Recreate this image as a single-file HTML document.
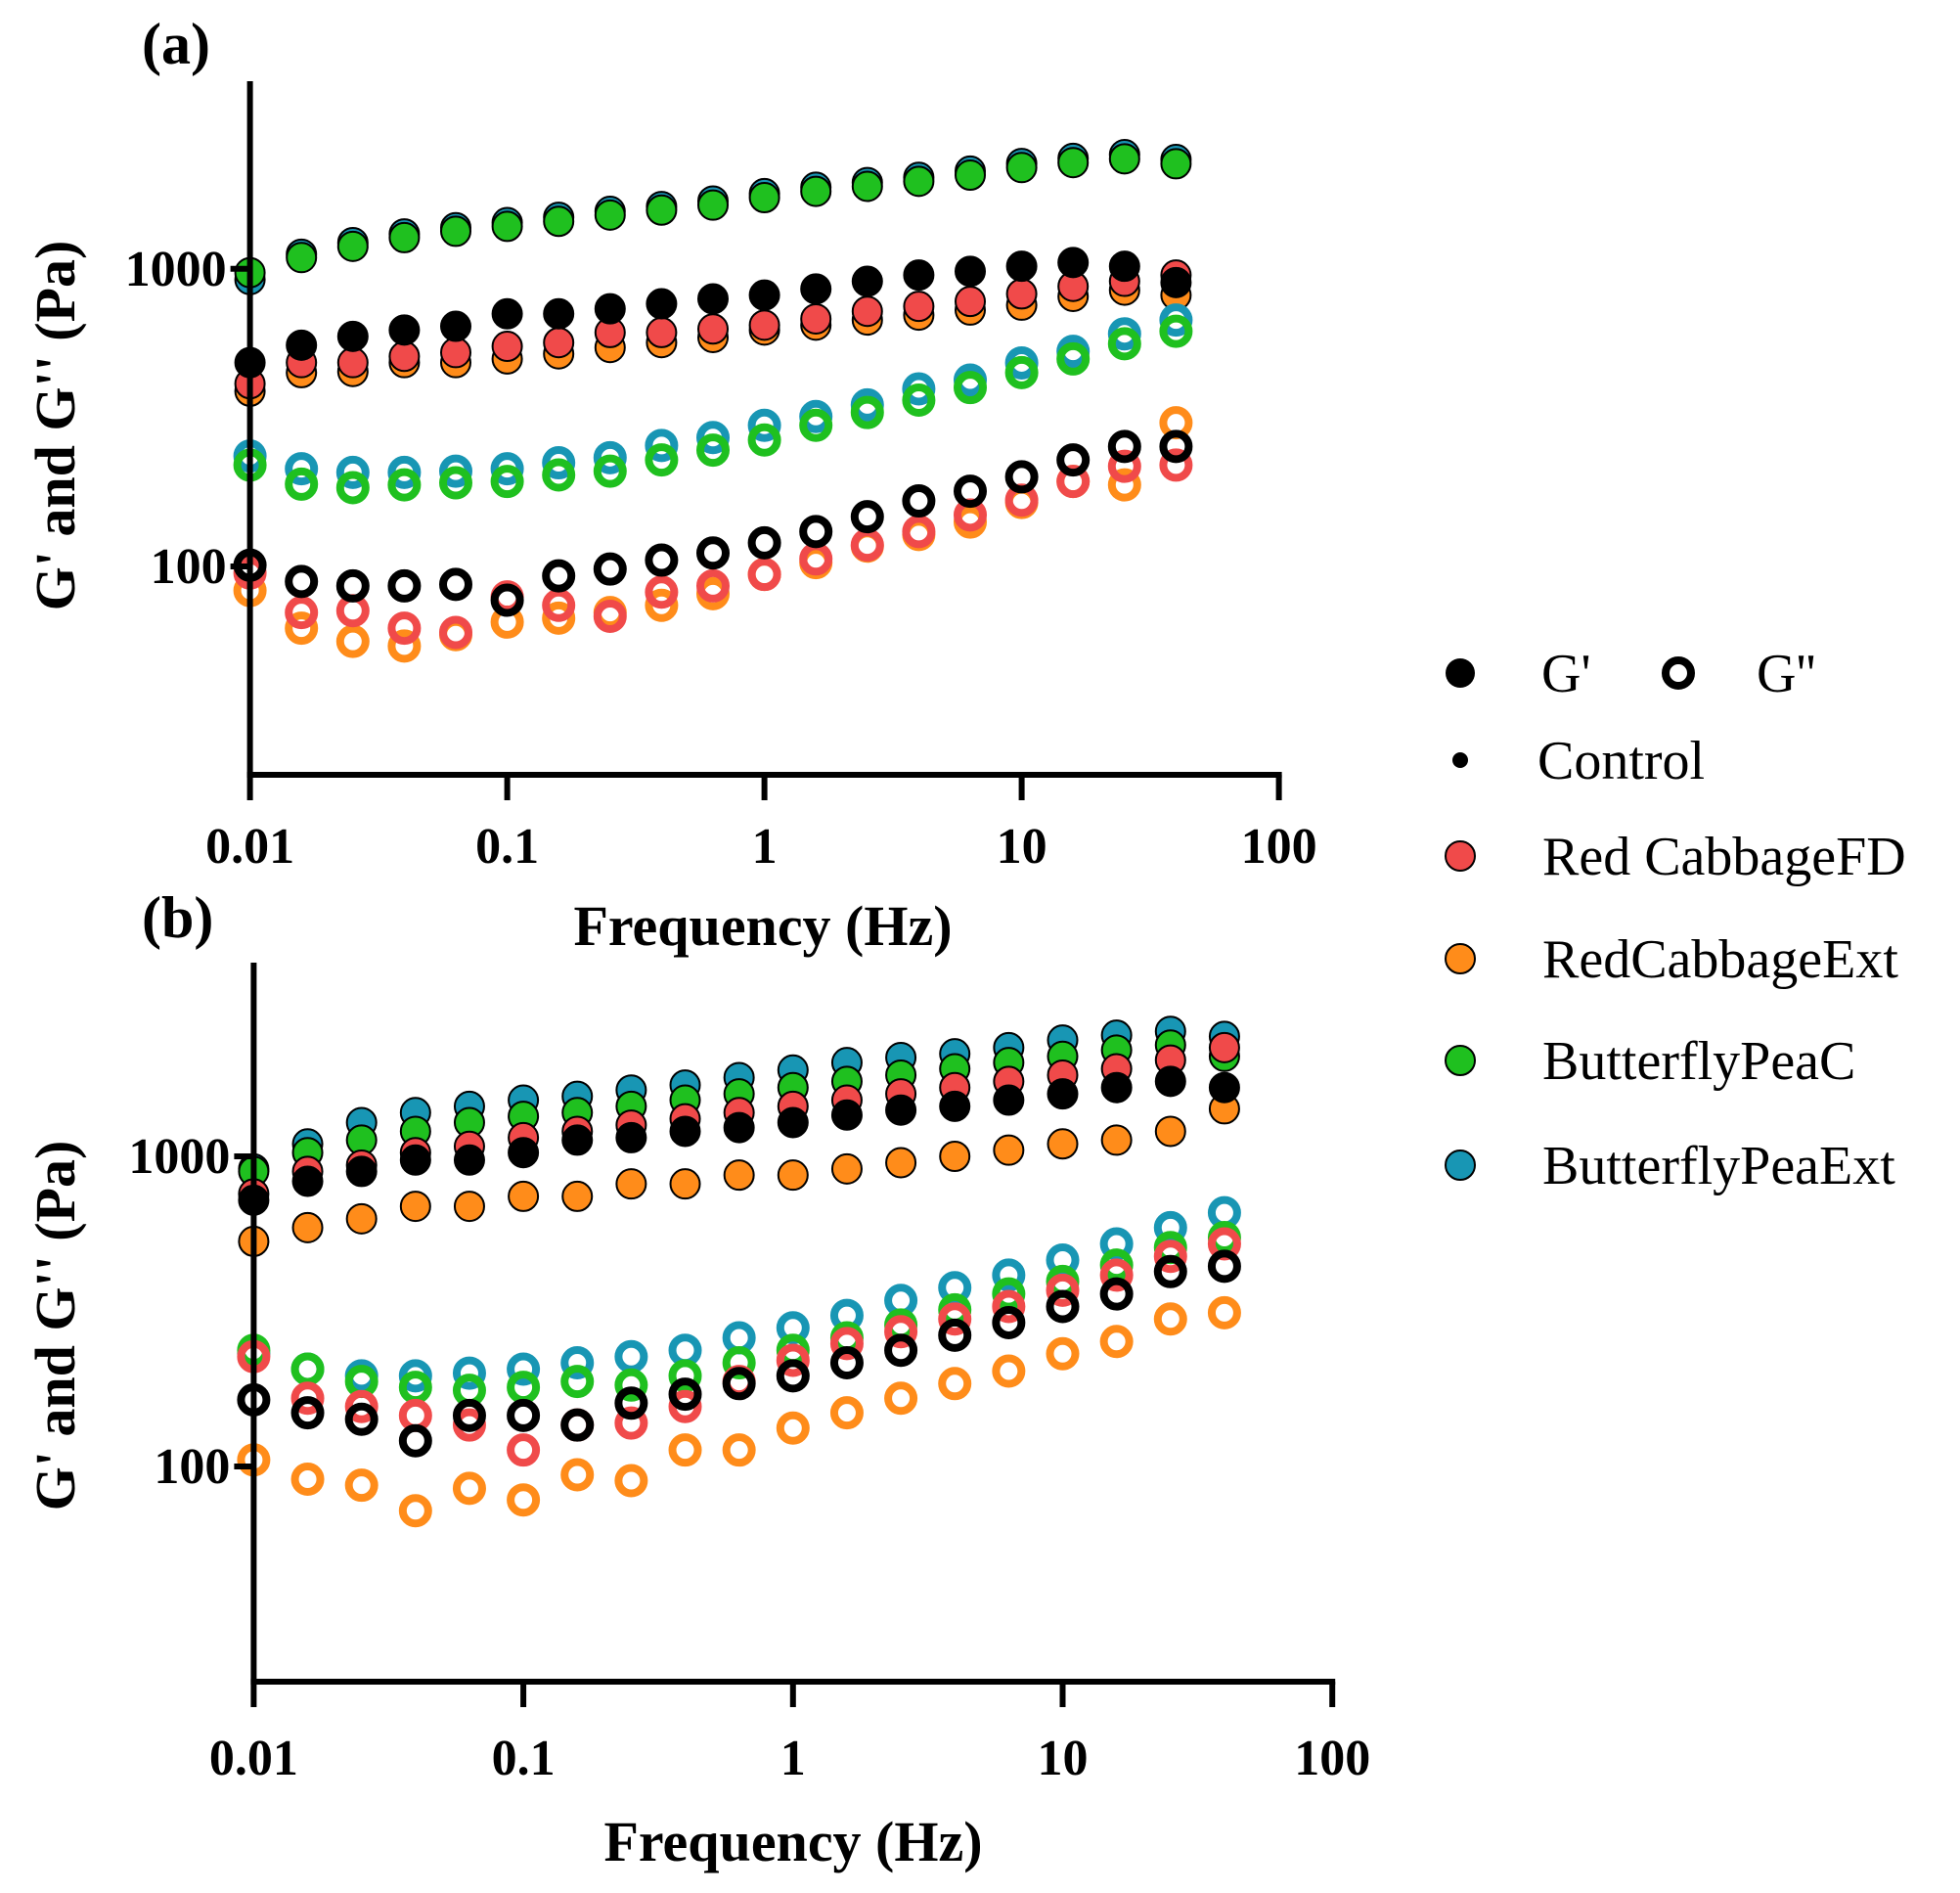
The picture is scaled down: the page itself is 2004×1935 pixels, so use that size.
<!DOCTYPE html>
<html><head><meta charset="utf-8"><style>
html,body{margin:0;padding:0;background:#fff}
svg{display:block}
text{font-family:"Liberation Serif",serif}
</style></head><body>
<svg id="chart" width="2004" height="1935" viewBox="0 0 2004 1935" xmlns="http://www.w3.org/2000/svg">
<g id="pa"></g>
<g id="pb"></g>
<g id="legend">
  <circle cx="1493" cy="688" r="15" fill="#000"/>
  <text x="1576" y="707" font-size="56">G'</text>
  <circle cx="1716" cy="688" r="13" fill="none" stroke="#000" stroke-width="8"/>
  <text x="1796" y="707" font-size="56">G''</text>
  <circle cx="1493" cy="777" r="8" fill="#000"/>
  <text x="1572" y="796" font-size="56">Control</text>
  <circle cx="1493" cy="875" r="15" fill="#f04a4a" stroke="#000" stroke-width="2"/>
  <text x="1577" y="894" font-size="56">Red CabbageFD</text>
  <circle cx="1493" cy="980" r="15" fill="#ff8c1a" stroke="#000" stroke-width="2"/>
  <text x="1577" y="999" font-size="56">RedCabbageExt</text>
  <circle cx="1493" cy="1084" r="15" fill="#1fc01f" stroke="#000" stroke-width="2"/>
  <text x="1577" y="1103" font-size="56">ButterflyPeaC</text>
  <circle cx="1493" cy="1191" r="15" fill="#1896b4" stroke="#000" stroke-width="2"/>
  <text x="1577" y="1210" font-size="56">ButterflyPeaExt</text>
</g>
</svg>
<script>
const freqExp = [-2,-1.8,-1.6,-1.4,-1.2,-1,-0.8,-0.6,-0.4,-0.2,0,0.2,0.4,0.6,0.8,1,1.2,1.4,1.6];
const seriesNames = ["ButterflyPeaExt","ButterflyPeaC","RedCabbageExt","RedCabbageFD","Control"];
const seriesColors = ["#1896b4","#1fc01f","#ff8c1a","#f04a4a","#000000"];
const xTickLabels = ["0.01","0.1","1","10","100"];
const yTickLabels = ["100","1000"];

// Panel (a) G'
const aGp_BPExt = [920,1120,1225,1310,1375,1430,1490,1560,1620,1690,1790,1880,1950,2030,2130,2260,2350,2420,2330];
const aGp_BPC   = [971,1091,1190,1273,1337,1389,1444,1516,1575,1637,1735,1821,1893,1968,2065,2189,2275,2342,2254];
const aGp_RCExt = [388,448,452,484,484,498,518,544,565,588,623,647,673,699,727,755,808,848,816];
const aGp_RCFD  = [411,484,484,508,523,549,565,611,611,628,647,679,720,748,777,824,873,908,953];
const aGp_Ctrl  = [484,554,593,623,641,706,706,734,763,793,816,856,908,953,981,1020,1050,1020,899];
// Panel (a) G''
const aGpp_BPExt = [235,213,207,207,209,213,223,232,255,271,298,319,349,395,423,483,528,605,673];
const aGpp_BPC   = [219,189,184,188,191,193,203,209,228,246,266,298,329,362,399,448,498,560,617];
const aGpp_RCExt = [83,62,56,54,59,65,67,70,74,81,94,103,117,128,141,164,193,188,304];
const aGpp_RCFD  = [95,70,71,62,60,79,74,68,82,86,94,106,118,131,149,167,193,217,219];
const aGpp_Ctrl  = [101,89,86,86,87,77,93,98,105,111,120,131,147,166,179,200,228,253,253];

// Panel (b) G'
const bGp_BPExt = [911,1097,1285,1384,1450,1518,1562,1636,1698,1795,1898,2006,2083,2142,2242,2371,2459,2530,2436];
const bGp_BPC   = [894,1028,1128,1204,1285,1346,1384,1450,1518,1590,1666,1745,1828,1915,2006,2101,2201,2285,2101];
const bGp_RCExt = [532,589,629,690,690,743,743,815,815,870,870,911,954,1000,1047,1097,1128,1204,1423];
const bGp_RCFD  = [757,894,937,1028,1077,1149,1204,1261,1321,1384,1450,1518,1590,1666,1745,1828,1915,2044,2242];
const bGp_Ctrl  = [722,831,894,973,973,1028,1128,1149,1204,1238,1285,1359,1410,1450,1518,1590,1666,1745,1666];
// Panel (b) G''
const bGpp_BPExt = [231,206,196,196,200,206,216,226,237,260,280,307,343,377,414,463,522,589,658];
const bGpp_BPC   = [237,206,188,180,176,180,188,183,196,216,237,260,286,320,360,395,446,508,547];
const bGpp_RCExt = [105,91,87,72,85,78,94,90,113,113,133,149,166,185,203,231,253,299,313];
const bGpp_RCFD  = [226,166,156,146,136,113,136,138,156,188,220,249,272,299,328,370,414,476,522];
const bGpp_Ctrl  = [164,149,142,121,146,146,136,160,171,185,196,216,237,265,291,328,360,425,442];

const NS = "http://www.w3.org/2000/svg";
function mk(tag, attrs, parent){
  const e = document.createElementNS(NS, tag);
  for (const k in attrs) e.setAttribute(k, attrs[k]);
  parent.appendChild(e);
  return e;
}

function drawPanel(g, cfg, gp, gpp, label){
  const xs = e => cfg.x0 + (e + 2) * cfg.dx;
  const ys = v => cfg.y100 - (Math.log10(v) - 2) * cfg.dy;
  for (let s = 0; s < 5; s++){
    for (let i = 0; i < freqExp.length; i++){
      const c = mk('circle', {cx: xs(freqExp[i]), cy: ys(gp[s][i]), r: 15, fill: seriesColors[s], stroke: '#000', 'stroke-width': 2}, g);
      
      
    }
  }
  for (let s = 0; s < 5; s++){
    for (let i = 0; i < freqExp.length; i++){
      const c = mk('circle', {cx: xs(freqExp[i]), cy: ys(gpp[s][i]), r: 13, fill: 'none', stroke: seriesColors[s], 'stroke-width': 8}, g);
      
      
    }
  }
  const ya = mk('line', {x1: cfg.x0, y1: cfg.top, x2: cfg.x0, y2: cfg.bottom, stroke: '#000', 'stroke-width': 6}, g);
  
  
  const xa = mk('line', {x1: cfg.x0 - 3, y1: cfg.bottom, x2: xs(2) + 3, y2: cfg.bottom, stroke: '#000', 'stroke-width': 6}, g);
  
  
  for (let k = 0; k < xTickLabels.length; k++){
    const x = xs(k - 2);
    const t = mk('line', {x1: x, y1: cfg.bottom, x2: x, y2: cfg.bottom + 26, stroke: '#000', 'stroke-width': 6}, g);
    
    
    const tl = mk('text', {x: x, y: cfg.xlabY, 'font-size': 52, 'font-weight': 'bold', 'text-anchor': 'middle'}, g);
    tl.textContent = xTickLabels[k];
    
    
  }
  for (let k = 0; k < yTickLabels.length; k++){
    const y = ys(Number(yTickLabels[k]));
    const t = mk('line', {x1: cfg.x0 - 20, y1: y, x2: cfg.x0, y2: y, stroke: '#000', 'stroke-width': 6}, g);
    
    
    const tl = mk('text', {x: cfg.x0 - 24, y: y + 17, 'font-size': 52, 'font-weight': 'bold', 'text-anchor': 'end'}, g);
    tl.textContent = yTickLabels[k];
    
    
  }
  const xt = mk('text', {x: cfg.xtX, y: cfg.xtY, 'font-size': 58, 'font-weight': 'bold', 'text-anchor': 'middle'}, g);
  xt.textContent = 'Frequency (Hz)';
  
  
  const yt = mk('text', {x: 0, y: 0, 'font-size': 58, 'font-weight': 'bold', 'text-anchor': 'middle', transform: 'translate(' + 76 + ',' + cfg.ytY + ') rotate(-90)'}, g);
  yt.textContent = "G' and G'' (Pa)";
  
  
  const pl = mk('text', {x: 145, y: cfg.plY, 'font-size': 60, 'font-weight': 'bold'}, g);
  pl.textContent = label;
  
  
}

drawPanel(document.getElementById('pa'),
  {x0: 255.6, dx: 263, y100: 579, dy: 304.2, top: 83, bottom: 792, xlabY: 882, xtX: 780, xtY: 966, ytY: 435, plY: 65},
  [aGp_BPExt, aGp_BPC, aGp_RCExt, aGp_RCFD, aGp_Ctrl],
  [aGpp_BPExt, aGpp_BPC, aGpp_RCExt, aGpp_RCFD, aGpp_Ctrl], '(a)');
drawPanel(document.getElementById('pb'),
  {x0: 259.4, dx: 275.7, y100: 1499, dy: 317, top: 984, bottom: 1719, xlabY: 1814, xtX: 811, xtY: 1902, ytY: 1355, plY: 958},
  [bGp_BPExt, bGp_BPC, bGp_RCExt, bGp_RCFD, bGp_Ctrl],
  [bGpp_BPExt, bGpp_BPC, bGpp_RCExt, bGpp_RCFD, bGpp_Ctrl], '(b)');
</script>
</body></html>
